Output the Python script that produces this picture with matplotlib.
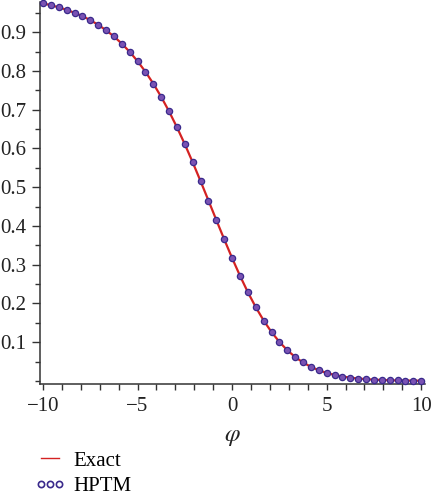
import matplotlib
matplotlib.use('Agg')
import matplotlib.pyplot as plt
from matplotlib.lines import Line2D
from matplotlib.ticker import MultipleLocator

# sample points (x step 5/12)
phi = [-10.0, -9.583, -9.167, -8.75, -8.333, -7.917, -7.5, -7.083, -6.667, -6.25,
       -5.833, -5.417, -5.0, -4.583, -4.167, -3.75, -3.333, -2.917, -2.5, -2.083,
       -1.667, -1.25, -0.833, -0.417, 0.0, 0.417, 0.833, 1.25, 1.667, 2.083,
       2.5, 2.917, 3.333, 3.75, 4.167, 4.583, 5.0, 5.417, 5.833, 6.25,
       6.667, 7.083, 7.5, 7.917, 8.333, 8.75, 9.167, 9.583, 10.0]

exact = [0.9745, 0.9697, 0.9642, 0.9578, 0.9501, 0.9413, 0.9312, 0.9191, 0.9051, 0.8891,
         0.8705, 0.8493, 0.8252, 0.7979, 0.7672, 0.7331, 0.6955, 0.6546, 0.6107, 0.5640,
         0.5153, 0.4654, 0.4150, 0.3653, 0.3170, 0.2713, 0.2288, 0.1903, 0.1559, 0.1261,
         0.1006, 0.0792, 0.0617, 0.0475, 0.0363, 0.0274, 0.0206, 0.0153, 0.0113, 0.0083,
         0.0061, 0.0045, 0.0032, 0.0023, 0.0017, 0.0012, 0.0009, 0.0006, 0.0005]

hptm = list(exact)

plt.rcParams['font.family'] = ['Liberation Serif', 'DejaVu Serif']
plt.rcParams['mathtext.fontset'] = 'stix'
fs = 15
axc = '#333333'

fig = plt.figure(figsize=(4.35, 5.0), dpi=100)
ax = fig.add_axes([40 / 435, 1 - 384 / 500, 385 / 435, 382 / 500])

ax.plot(phi, exact, color='#d42222', lw=1.6, zorder=2)
ax.plot(phi, hptm, ls='', marker='o', ms=4.5, mfc='#7a52b3', mec='#3a2a8c',
        mew=0.9, zorder=3, clip_on=False)

ax.set_xlim(-10.16, 10.2)
ax.set_ylim(-0.008, 0.978)

ax.xaxis.set_minor_locator(MultipleLocator(1))
ax.yaxis.set_minor_locator(MultipleLocator(0.05))
ax.set_yticks([0.1, 0.2, 0.3, 0.4, 0.5, 0.6, 0.7, 0.8, 0.9])
ax.set_xticks([-10, -5, 0, 5, 10])
ax.set_xticklabels(['\u221210', '\u22125', '0', '5', '10'])

for s in ['top', 'right']:
    ax.spines[s].set_visible(False)
for s in ['left', 'bottom']:
    ax.spines[s].set_color(axc)
    ax.spines[s].set_linewidth(1.1)

ax.tick_params(axis='both', which='both', colors=axc, labelcolor='#222222',
               labelsize=fs, width=1.0, direction='out')
ax.tick_params(axis='y', which='major', length=5.8, pad=4)
ax.tick_params(axis='y', which='minor', length=3.6)
ax.tick_params(axis='x', which='both', length=4.3, pad=5)

ax.set_xlabel(r'$\varphi$', fontsize=fs + 3, labelpad=7, color='#222222')

h_exact = Line2D([], [], color='#d42222', lw=1.0)
h_hptm = Line2D([], [], ls='', marker='o', ms=4.5, mfc='none', mec='#3a2a8c', mew=1.2)
fig.legend([h_exact, h_hptm], ['Exact', 'HPTM'], loc='upper left',
           bbox_to_anchor=(35 / 435, 1 - 451 / 500), frameon=False, fontsize=fs,
           handlelength=1.45, handletextpad=0.4, labelspacing=0.3,
           borderpad=0, borderaxespad=0, numpoints=3)

fig.savefig('out.png', dpi=100)
